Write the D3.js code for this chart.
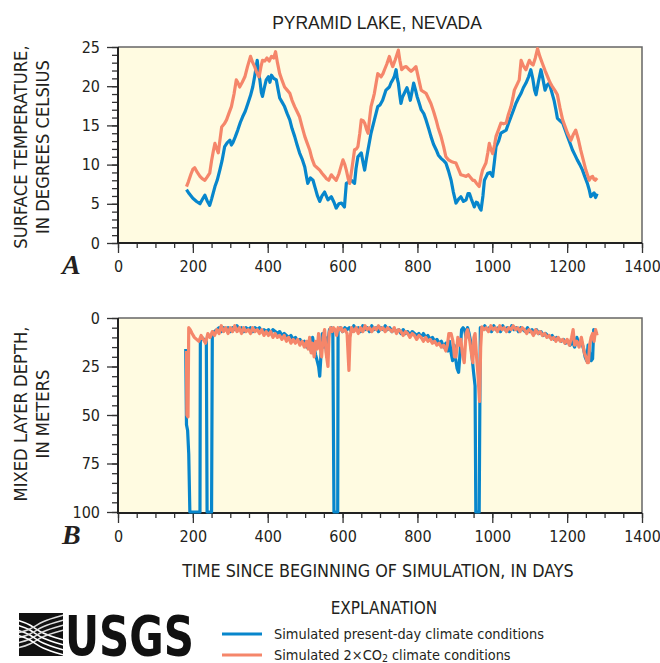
<!DOCTYPE html>
<html>
<head>
<meta charset="utf-8">
<script src="https://cdn.jsdelivr.net/npm/d3@7"></script>
<style>
  body { margin: 0; background: #fff; }
  text { font-family: "DejaVu Sans Condensed", "Liberation Sans Narrow", sans-serif; fill: #231f20; }
</style>
</head>
<body>
<div id="chart-area"></div>
<script>
// ---- data: [day, value] ----
const tempPresent = [[183,6.8],[190,6.3],[200,5.7],[210,5.3],[219,5.0],[226,5.6],[232,6.1],[238,5.4],[245,4.8],[250,5.6],[259,7.2],[265,8.0],[272,9.3],[278,10.5],[285,12.3],[292,12.8],[299,13.1],[303,12.5],[307,12.8],[313,13.5],[320,14.4],[327,15.4],[333,16.1],[340,16.8],[347,17.8],[354,18.8],[360,19.9],[366,21.5],[372,23.3],[376,21.5],[379,20.8],[383,19.2],[386,18.7],[391,19.8],[396,20.8],[402,21.2],[406,20.5],[410,21.4],[416,21.0],[423,20.8],[428,19.5],[432,18.5],[438,18.0],[445,17.4],[452,16.5],[459,15.7],[465,14.6],[472,13.6],[478,12.6],[485,11.5],[492,10.7],[499,9.7],[503,8.6],[507,7.6],[514,8.3],[521,8.0],[527,7.0],[533,6.0],[539,5.3],[545,6.0],[552,6.5],[561,5.5],[570,5.9],[577,5.2],[583,4.45],[590,5.0],[597,5.1],[605,4.6],[610,7.6],[617,7.8],[623,8.0],[632,7.6],[636,9.5],[641,11.0],[650,11.5],[655,10.2],[659,9.3],[664,10.8],[668,11.9],[676,14.0],[685,15.7],[694,17.4],[700,17.6],[707,18.2],[716,19.5],[725,19.9],[730,20.5],[734,20.8],[738,21.2],[743,22.1],[746,21.0],[749,20.4],[753,18.8],[756,17.8],[760,18.6],[765,19.1],[772,19.8],[777,19.0],[781,18.2],[786,19.4],[790,20.4],[795,19.5],[799,18.7],[805,17.8],[810,17.0],[817,16.5],[823,15.7],[830,14.6],[836,13.6],[843,12.6],[850,11.9],[856,11.2],[863,10.8],[870,10.5],[876,10.2],[883,9.2],[890,8.0],[896,6.5],[903,5.1],[910,5.6],[916,5.9],[923,5.3],[930,5.5],[935,6.3],[939,6.3],[944,5.6],[948,5.1],[952,4.6],[957,5.2],[961,5.1],[966,4.5],[970,4.2],[975,6.0],[979,8.0],[984,8.5],[988,8.9],[994,9.0],[1001,8.5],[1006,10.5],[1010,12.3],[1017,13.0],[1023,14.0],[1030,14.2],[1037,14.4],[1043,15.2],[1050,16.1],[1057,17.0],[1063,17.8],[1070,18.5],[1077,19.1],[1083,19.8],[1090,20.4],[1097,21.2],[1103,22.1],[1108,21.0],[1113,19.5],[1117,18.9],[1123,20.5],[1130,22.1],[1135,21.0],[1141,19.5],[1146,20.1],[1152,20.4],[1158,19.4],[1165,18.2],[1170,17.0],[1174,15.9],[1181,15.6],[1188,15.3],[1195,14.4],[1201,13.6],[1208,12.7],[1214,11.9],[1220,11.3],[1227,10.6],[1234,10.0],[1241,9.3],[1247,8.5],[1254,7.6],[1259,6.8],[1263,5.9],[1268,6.2],[1272,6.4],[1276,5.8],[1280,6.3]];

const temp2xCO2 = [[183,7.2],[188,7.8],[195,8.8],[200,9.4],[205,9.6],[212,9.0],[219,8.5],[225,8.2],[232,8.0],[238,8.4],[245,8.9],[250,10.5],[255,11.8],[259,12.7],[264,12.0],[268,11.5],[272,13.0],[277,14.8],[284,15.2],[290,15.7],[296,16.5],[303,17.4],[310,19.0],[316,20.8],[320,20.5],[325,19.9],[332,20.5],[339,21.2],[346,22.5],[354,23.8],[360,23.0],[365,22.5],[370,21.8],[377,21.2],[382,22.5],[386,23.3],[392,23.2],[398,23.6],[404,23.2],[410,23.8],[416,23.6],[421,24.4],[426,23.0],[432,21.6],[438,20.8],[445,19.9],[452,19.5],[459,19.1],[465,18.2],[472,17.4],[478,16.8],[485,16.1],[492,14.8],[499,13.6],[505,12.8],[512,11.9],[518,10.8],[525,9.9],[532,9.6],[539,9.3],[545,8.9],[552,8.5],[557,8.2],[563,8.0],[570,8.7],[577,8.3],[583,8.0],[590,8.8],[596,9.8],[601,10.6],[606,10.0],[610,9.3],[615,8.2],[619,7.6],[625,9.5],[632,11.9],[637,12.0],[641,12.3],[646,14.0],[650,15.7],[655,15.6],[659,15.3],[664,14.5],[668,14.0],[672,15.8],[676,17.4],[681,18.3],[685,19.1],[690,20.5],[694,21.6],[699,21.4],[703,21.2],[708,21.6],[712,22.1],[718,22.8],[725,23.8],[730,23.0],[734,22.5],[741,23.4],[749,24.6],[753,23.3],[758,22.1],[764,22.4],[770,22.5],[776,22.2],[783,21.9],[790,22.2],[796,22.5],[803,21.0],[810,19.5],[816,19.3],[823,19.1],[830,18.4],[836,17.8],[843,16.8],[850,15.7],[856,14.6],[863,13.6],[870,12.3],[876,11.0],[883,10.6],[890,10.4],[896,10.3],[903,10.2],[910,9.4],[916,8.7],[923,8.6],[930,8.5],[936,8.7],[943,8.3],[948,8.0],[952,8.0],[958,7.6],[965,7.2],[970,8.5],[974,9.3],[979,9.8],[983,10.2],[988,11.5],[992,12.7],[996,12.0],[1001,11.4],[1006,12.5],[1010,13.6],[1017,14.5],[1023,15.3],[1030,15.2],[1037,15.3],[1043,16.4],[1050,17.4],[1055,18.5],[1059,19.5],[1066,20.2],[1072,20.8],[1077,23.3],[1083,22.6],[1090,22.1],[1095,22.8],[1099,23.3],[1104,22.9],[1109,22.7],[1115,23.6],[1121,24.8],[1127,23.8],[1134,22.9],[1141,22.0],[1148,21.2],[1154,20.5],[1161,19.9],[1168,19.4],[1174,18.9],[1181,17.2],[1188,15.7],[1195,14.8],[1201,14.0],[1206,13.5],[1210,13.1],[1216,13.8],[1223,14.4],[1230,13.2],[1236,11.9],[1243,10.6],[1250,9.3],[1255,8.6],[1259,8.0],[1264,8.4],[1268,8.5],[1272,8.1],[1275,8.0],[1280,8.3]];

const depthPresent = [[181,16],[183,55],[186,58],[189,70],[192,100],[219,100],[220,12],[224,10],[230,11],[236,12],[238,100],[250,100],[252,8],[258,7],[264,6],[270,5],[276,7],[282,5],[288,6],[294,5],[300,7],[306,5],[312,6],[318,4],[324,6],[330,5],[336,7],[342,5],[348,6],[354,5],[360,7],[366,5],[372,6],[378,5],[384,7],[390,6],[396,7],[402,6],[408,8],[414,6],[420,7],[426,8],[432,7],[438,9],[444,8],[450,9],[456,10],[462,9],[468,11],[474,10],[480,12],[486,11],[492,13],[498,12],[504,15],[510,13],[516,17],[520,10],[524,15],[528,19],[532,22],[536,25],[539,30],[542,20],[546,8],[550,15],[554,10],[558,20],[561,12],[565,6],[570,5],[574,8],[577,100],[587,100],[588,6],[594,5],[600,7],[606,5],[612,6],[618,5],[624,7],[630,4],[636,6],[642,5],[648,7],[654,4],[660,6],[666,5],[672,7],[678,4],[684,6],[690,5],[696,7],[702,5],[708,6],[714,4],[720,6],[726,5],[732,7],[738,6],[744,7],[750,6],[756,8],[762,6],[768,8],[774,7],[780,9],[786,7],[792,8],[798,9],[804,8],[810,10],[816,8],[822,10],[828,9],[834,11],[840,10],[846,12],[852,11],[858,13],[864,12],[870,15],[876,13],[882,17],[886,12],[890,18],[894,22],[898,14],[902,21],[906,26],[910,28],[914,18],[918,6],[922,5],[926,6],[930,10],[934,5],[938,8],[942,12],[946,20],[950,28],[954,35],[956,100],[965,100],[968,5],[974,6],[980,4],[986,6],[992,5],[998,7],[1004,4],[1010,6],[1016,5],[1022,7],[1028,4],[1034,6],[1040,5],[1046,7],[1052,4],[1058,6],[1064,5],[1070,7],[1076,5],[1082,6],[1088,7],[1094,5],[1100,7],[1106,6],[1112,8],[1118,6],[1124,8],[1130,7],[1136,9],[1142,8],[1148,9],[1154,10],[1160,9],[1166,11],[1172,10],[1178,11],[1184,12],[1190,11],[1196,13],[1202,12],[1208,14],[1214,12],[1220,15],[1226,10],[1232,14],[1238,12],[1244,16],[1248,20],[1252,22],[1256,14],[1260,18],[1264,22],[1268,21],[1271,6],[1275,8],[1280,7]];

const depth2xCO2 = [[183,17],[184,50],[187,51],[189,5],[193,6],[198,8],[204,10],[210,11],[216,12],[222,9],[228,11],[234,13],[240,8],[246,10],[252,7],[258,9],[264,6],[270,8],[276,4],[282,7],[288,5],[294,8],[300,5],[306,7],[312,4],[318,7],[324,5],[330,8],[336,5],[342,7],[348,6],[354,8],[360,5],[366,7],[372,6],[378,8],[384,6],[390,9],[396,7],[402,9],[408,7],[414,10],[420,8],[426,10],[432,9],[438,11],[444,9],[450,12],[456,10],[462,13],[468,11],[474,13],[480,11],[486,14],[492,12],[498,15],[504,12],[508,16],[512,10],[516,18],[520,13],[524,20],[528,12],[532,16],[536,8],[540,15],[544,20],[548,10],[552,6],[556,18],[561,25],[564,8],[568,5],[572,7],[576,5],[580,6],[584,9],[588,5],[592,6],[596,5],[600,7],[606,6],[612,8],[617,27],[620,10],[624,5],[630,7],[636,5],[642,8],[648,5],[654,7],[660,4],[666,6],[672,5],[678,7],[684,5],[690,6],[696,4],[702,6],[708,5],[714,7],[720,5],[726,6],[732,7],[738,5],[744,8],[750,6],[756,7],[762,9],[768,7],[774,8],[780,10],[786,8],[792,9],[798,11],[804,9],[810,10],[816,12],[822,10],[828,12],[834,11],[840,13],[846,12],[852,14],[858,13],[864,15],[870,14],[876,17],[880,14],[884,8],[890,8],[895,12],[899,20],[903,20],[908,10],[912,14],[916,11],[920,18],[925,23],[930,8],[934,6],[940,12],[944,18],[948,23],[951,10],[954,8],[958,20],[962,30],[966,43],[969,15],[972,4.5],[978,6],[984,5],[990,7],[996,4],[1002,6],[1008,5],[1014,7],[1020,4],[1026,6],[1032,5],[1038,7],[1044,5],[1050,6],[1056,4],[1062,6],[1068,5],[1074,7],[1080,5],[1086,6],[1092,8],[1098,6],[1104,7],[1110,9],[1116,6],[1122,8],[1128,7],[1134,9],[1140,8],[1146,10],[1152,9],[1158,11],[1164,10],[1170,12],[1176,10],[1182,12],[1188,11],[1194,13],[1200,11],[1206,14],[1212,10],[1216,6],[1220,14],[1226,12],[1232,15],[1238,10],[1242,14],[1246,18],[1250,20],[1254,23],[1257,23],[1260,14],[1264,10],[1268,8],[1272,12],[1276,6],[1280,9]];

const dayTicks = [0, 200, 400, 600, 800, 1000, 1200, 1400];
const tempTicks = [0, 5, 10, 15, 20, 25];
const depthTicks = [0, 25, 50, 75, 100];
const seriesNames = ["Simulated present-day climate conditions", "Simulated 2\u00d7CO"];

const blue = "#0786cc", orange = "#f5866a";

let svg = d3.select("#chart-area")
  .append("svg")
    .attr("width", 660)
    .attr("height", 663);

let left = 118, right = 642;
let x = d3.scaleLinear().domain([0, 1400]).range([left, right]);

function panel(id, y, top, bottom, majorTicks, minorTicks, series, letter) {
  let g = svg.append("g");

  // clip a bit past the bottom so lines sitting on 100 m still show
  g.append("clipPath").attr("id", id)
    .append("rect")
      .attr("x", left).attr("y", top)
      .attr("width", right - left).attr("height", bottom - top + 2);

  g.append("rect")
    .attr("x", left).attr("y", top)
    .attr("width", right - left).attr("height", bottom - top)
    .attr("fill", "#fffbe1");

  // minor ticks
  g.append("g")
    .attr("transform", `translate(0, ${bottom})`)
    .call(d3.axisBottom(x).tickValues(d3.range(0, 1401, 50)).tickSize(5).tickFormat(""))
    .call(a => a.select(".domain").remove());
  g.append("g")
    .attr("transform", `translate(${left}, 0)`)
    .call(d3.axisLeft(y).tickValues(minorTicks).tickSize(6).tickFormat(""))
    .call(a => a.select(".domain").remove());

  // major ticks + labels
  let xa = g.append("g")
    .attr("transform", `translate(0, ${bottom})`)
    .call(d3.axisBottom(x).tickValues(dayTicks).tickSize(10).tickPadding(8).tickFormat(d3.format("d")));
  xa.select(".domain").remove();
  let ya = g.append("g")
    .attr("transform", `translate(${left}, 0)`)
    .call(d3.axisLeft(y).tickValues(majorTicks).tickSize(11).tickPadding(7));
  ya.select(".domain").remove();
  g.selectAll(".tick text").attr("font-size", "16px").attr("font-family", null);
  g.selectAll(".tick line").attr("stroke", "#333").attr("stroke-width", 1.3);

  // frame (drawn under the series so lines resting on the axis stay visible)
  g.append("path")
    .attr("d", `M${left},${top}H${right}V${bottom}`)
    .attr("fill", "none").attr("stroke", "#666").attr("stroke-width", 1.5);
  g.append("path")
    .attr("d", `M${left},${top}V${bottom}H${right}`)
    .attr("fill", "none").attr("stroke", "#222").attr("stroke-width", 2);

  let line = d3.line().x(d => x(d[0])).y(d => y(d[1]));
  let plot = g.append("g").attr("clip-path", `url(#${id})`);
  plot.append("path").datum(series[0])
    .attr("d", line).attr("fill", "none")
    .attr("stroke", blue).attr("stroke-width", 3.2).attr("stroke-linejoin", "round");
  plot.append("path").datum(series[1])
    .attr("d", line).attr("fill", "none")
    .attr("stroke", orange).attr("stroke-width", 3.2).attr("stroke-linejoin", "round");

  g.append("text")
    .attr("x", 62).attr("y", bottom + 31)
    .style("font-family", "'Liberation Serif', serif")
    .attr("font-size", "28px").attr("font-weight", "bold").attr("font-style", "italic")
    .text(letter);
}

let yA = d3.scaleLinear().domain([0, 25]).range([243, 47]);
let yB = d3.scaleLinear().domain([0, 100]).range([318, 512]);

panel("clipA", yA, 47, 243, tempTicks, d3.range(0, 26, 1), [tempPresent, temp2xCO2], "A");
panel("clipB", yB, 318, 513, depthTicks, d3.range(0, 101, 5), [depthPresent, depth2xCO2], "B");

// Title
svg.append("text")
  .attr("x", 377).attr("y", 29)
  .attr("text-anchor", "middle")
  .style("font-family", "'Liberation Sans', Arial, sans-serif")
  .attr("font-size", "17.5px")
  .text("PYRAMID LAKE, NEVADA");

// Y labels
function yLabel(lines, cy) {
  let t = svg.append("text")
    .attr("transform", `translate(0, ${cy}) rotate(-90)`)
    .attr("text-anchor", "middle")
    .attr("font-size", "18.2px");
  t.append("tspan").attr("x", 0).attr("y", 27).text(lines[0]);
  t.append("tspan").attr("x", 0).attr("y", 49).text(lines[1]);
}
yLabel(["SURFACE TEMPERATURE,", "IN DEGREES CELSIUS"], 147);
yLabel(["MIXED LAYER DEPTH,", "IN METERS"], 414);

// X label
svg.append("text")
  .attr("x", 378).attr("y", 577)
  .attr("text-anchor", "middle")
  .attr("font-size", "17.8px")
  .text("TIME SINCE BEGINNING OF SIMULATION, IN DAYS");

// Explanation
svg.append("text")
  .attr("x", 384).attr("y", 614)
  .attr("text-anchor", "middle")
  .attr("font-size", "17px")
  .text("EXPLANATION");

let legend = svg.append("g");
[blue, orange].forEach((c, i) => {
  let yy = 634 + i * 21;
  legend.append("line")
    .attr("x1", 222).attr("x2", 262).attr("y1", yy).attr("y2", yy)
    .attr("stroke", c).attr("stroke-width", 3);
  let t = legend.append("text")
    .attr("x", 274).attr("y", yy + 4.5)
    .attr("font-size", "14.4px")
    .text(seriesNames[i]);
  if (i === 1) {
    t.append("tspan").attr("font-size", "10.5px").attr("dy", 2).text("2");
    t.append("tspan").attr("dy", -2).text(" climate conditions");
  }
});

// USGS identifier
let logo = svg.append("g");
logo.append("clipPath").attr("id", "logoClip")
  .append("rect").attr("x", 19).attr("y", 613).attr("width", 44).attr("height", 43);
logo.append("rect")
  .attr("x", 19).attr("y", 613).attr("width", 44).attr("height", 43)
  .attr("fill", "#111");
let wave = d3.line().curve(d3.curveBasis);
let wg = logo.append("g").attr("clip-path", "url(#logoClip)");
[0, 5, 10, 15].forEach(o => {
  wg.append("path")
    .attr("d", wave([[17, 620 + o], [30, 624 + o], [42, 634 + o], [64, 640 + o]]))
    .attr("fill", "none").attr("stroke", "#fff").attr("stroke-width", 1.6);
  wg.append("path")
    .attr("d", wave([[17, 648 - o], [30, 645 - o], [42, 636 - o], [64, 630 - o]]))
    .attr("fill", "none").attr("stroke", "#ddd").attr("stroke-width", 1.4);
});
logo.append("text")
  .attr("x", 65).attr("y", 655)
  .attr("font-size", "55px").attr("font-weight", "bold")
  .attr("textLength", 129).attr("lengthAdjust", "spacingAndGlyphs")
  .style("fill", "#111")
  .text("USGS");
</script>
</body>
</html>
